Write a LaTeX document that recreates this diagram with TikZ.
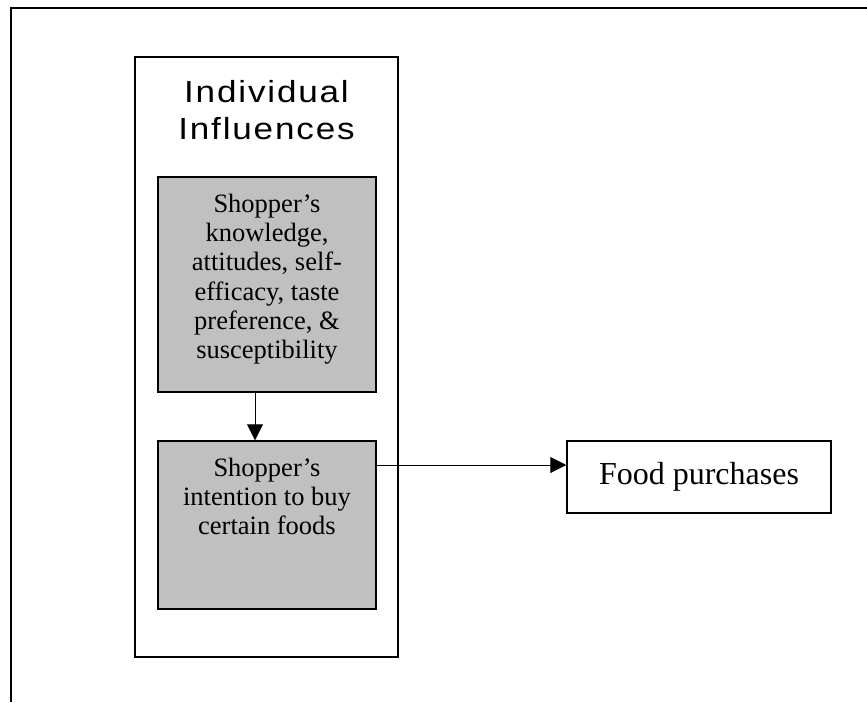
\documentclass[tikz,border=0pt]{standalone}
\usepackage{fontspec}
\setmainfont{Liberation Serif}
\newfontfamily\headfont[FakeStretch=1.15, LetterSpace=6]{Liberation Sans}
\usetikzlibrary{positioning, arrows.meta}
\definecolor{shadegray}{RGB}{192,192,192}

\begin{document}
\begin{tikzpicture}[x=1pt, y=-1pt,
  box/.style={draw, line width=1.5pt, inner sep=0pt},
  shaded/.style={box, fill=shadegray, minimum width=218pt},
  boxtext/.style={inner sep=0pt, align=center, font=\fontsize{26.5}{29.3}\selectfont},
  flow/.style={-{Triangle[length=16pt, width=16pt]}, line width=1pt}]
				  \useasboundingbox (0,0) rectangle (867,702);
				  \draw[line width=2pt] (11,702) -- (11,8) -- (867,8);
				  \node[box, minimum width=263pt, minimum height=600pt] (indiv) at (266.5,357) {};
				  \node[inner sep=0pt, align=center, font=\headfont\fontsize{30.5}{37}\selectfont, below=24pt of indiv.north] (title) {Individual\\Influences};
				  \node[shaded, minimum height=215pt] (know) at (267,284.5) {};
				  \node[boxtext, below=17.5pt of know.north] (knowtext) {Shopper's\\knowledge,\\attitudes, self-\\efficacy, taste\\preference, \&\\susceptibility};
				  \node[shaded, minimum height=168pt] (intent) at (267,525) {};
				  \node[boxtext, below=17.5pt of intent.north] (intenttext) {Shopper's\\intention to buy\\certain foods};
				  \node[box, minimum width=264pt, minimum height=72pt, font=\fontsize{32}{36}\selectfont] (food) at (699,477) {Food purchases};
				  \draw[flow] ([xshift=-12pt]know.south) -- ([xshift=-12pt]intent.north);
				  \draw[flow] ([yshift=60pt]intent.east) -- ([yshift=60pt]intent.east -| food.west);
				\end{tikzpicture}
\end{document}
